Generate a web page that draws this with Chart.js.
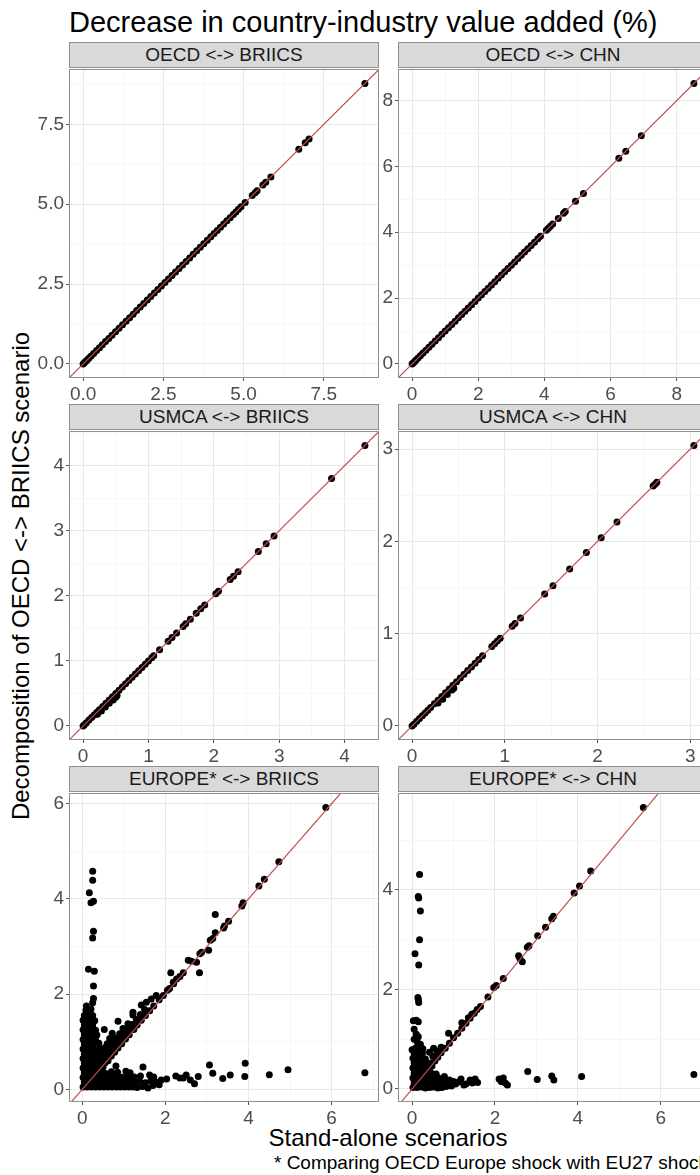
<!DOCTYPE html>
<html>
<head>
<meta charset="utf-8">
<script src="https://cdn.jsdelivr.net/npm/chart.js@4.4.0/dist/chart.umd.min.js"></script>
<style>
  html, body { margin: 0; padding: 0; background: #fff; overflow: hidden; width: 700px; height: 1175px; }
  body { position: relative; font-family: 'Liberation Sans', Arial, sans-serif; }
  canvas { position: absolute; }
  .txt { position: absolute; white-space: nowrap; }
  .strip { position: absolute; width: 308px; height: 24px; background: #d9d9d9; border: 1px solid #8f8f8f;
           color: #1a1a1a; font-size: 19px; line-height: 24px; text-align: center; }
  #title { left: 69px; top: 8px; font-size: 29px; line-height: 1; color: #000; }
  #ytitle { left: -279px; top: 564px; width: 600px; text-align: center; font-size: 24px; line-height: 24px;
            color: #000; transform: rotate(-90deg); transform-origin: 300px 12px; }
  #xtitle { left: 88px; top: 1126px; width: 600px; text-align: center; font-size: 24px; line-height: 24px; color: #000; }
  #caption { left: 108px; top: 1153px; width: 600px; text-align: right; font-size: 19px; line-height: 20px; color: #000; }
</style>
</head>
<body>
<div id="title" class="txt">Decrease in country-industry value added (%)</div>
<div id="ytitle" class="txt">Decomposition of OECD &lt;-&gt; BRIICS scenario</div>
<div id="xtitle" class="txt">Stand-alone scenarios</div>
<div id="caption" class="txt">* Comparing OECD Europe shock with EU27 shock</div>
<script>
/* Stand-alone vs decomposed scenarios — six faceted scatter panels */

const panelTitles = ['OECD <-> BRIICS', 'OECD <-> CHN', 'USMCA <-> BRIICS', 'USMCA <-> CHN',
    'EUROPE* <-> BRIICS', 'EUROPE* <-> CHN'];

// points lying on the diagonal (stand-alone value == decomposed value)
const oecdBriicsVals = [0, 0.03, 0.07, 0.12, 0.18, 0.25, 0.33, 0.42, 0.51, 0.6, 0.7, 0.8, 0.9, 1.01, 1.12,
    1.23, 1.34, 1.45, 1.56, 1.67, 1.78, 1.89, 2.0, 2.11, 2.22, 2.33, 2.44, 2.55, 2.66, 2.77, 2.88, 2.99,
    3.1, 3.21, 3.32, 3.43, 3.54, 3.65, 3.76, 3.87, 3.98, 4.08, 4.18, 4.28, 4.38, 4.48, 4.58, 4.68, 4.76,
    4.84, 4.92, 5.05, 5.27, 5.36, 5.42, 5.6, 5.69, 5.85, 6.72, 6.92, 7.04, 8.78];
const oecdChnVals = [0, 0.03, 0.07, 0.12, 0.18, 0.25, 0.33, 0.42, 0.51, 0.6, 0.7, 0.8, 0.9, 1.0, 1.1,
    1.2, 1.3, 1.4, 1.5, 1.6, 1.7, 1.8, 1.9, 2.0, 2.1, 2.2, 2.3, 2.4, 2.5, 2.6, 2.7, 2.8, 2.9, 3.0, 3.1,
    3.2, 3.3, 3.4, 3.5, 3.6, 3.7, 3.8, 3.88, 4.06, 4.12, 4.18, 4.25, 4.42, 4.58, 4.63, 4.94, 5.18, 6.25,
    6.46, 6.93, 8.52];
const usmcaBriicsVals = [0, 0.02, 0.05, 0.09, 0.13, 0.17, 0.21, 0.25, 0.3, 0.35, 0.4, 0.45, 0.5, 0.55,
    0.6, 0.65, 0.7, 0.75, 0.8, 0.85, 0.9, 0.95, 1.0, 1.05, 1.08, 1.17, 1.3, 1.36, 1.43, 1.53, 1.57, 1.64,
    1.73, 1.8, 1.86, 2.03, 2.07, 2.25, 2.3, 2.37, 2.68, 2.8, 2.92, 3.8, 4.31];
const usmcaChnVals = [0, 0.02, 0.05, 0.08, 0.11, 0.14, 0.17, 0.2, 0.24, 0.28, 0.32, 0.36, 0.4, 0.44,
    0.48, 0.52, 0.56, 0.6, 0.64, 0.68, 0.72, 0.76, 0.86, 0.89, 0.92, 0.95, 1.08, 1.11, 1.17, 1.43, 1.52,
    1.7, 1.88, 2.04, 2.21, 2.6, 2.62, 2.64, 3.04];

// [stand-alone, decomposition] pairs off the diagonal
const usmcaBriicsOff = [[0.22, 0.18], [0.28, 0.23], [0.34, 0.29], [0.4, 0.35], [0.46, 0.4], [0.5, 0.44], [0.52, 0.47]];
const usmcaChnOff = [[0.28, 0.25], [0.33, 0.29], [0.38, 0.34], [0.43, 0.39], [0.45, 0.41]];

const europeBriicsPts = [
    [0.02, 0.05], [0.12, 0.05], [0.22, 0.05], [0.32, 0.05], [0.42, 0.05], [0.52, 0.05], [0.62, 0.05], [0.72, 0.05],
    [0.82, 0.05], [0.92, 0.05], [1.02, 0.05], [1.12, 0.05], [1.22, 0.05], [1.32, 0.04], [1.45, 0.06], [1.58, 0.03], [1.7, 0.08],
    [0.05, 0.15], [0.15, 0.15], [0.25, 0.14], [0.35, 0.16], [0.45, 0.15], [0.55, 0.15], [0.65, 0.14], [0.75, 0.16],
    [0.85, 0.15], [0.95, 0.15], [1.05, 0.14], [1.15, 0.16], [1.25, 0.15], [1.38, 0.17], [1.52, 0.14], [1.65, 0.18], [1.78, 0.15],
    [0.02, 0.25], [0.12, 0.25], [0.22, 0.25], [0.32, 0.26], [0.42, 0.24], [0.52, 0.26], [0.62, 0.25], [0.72, 0.27],
    [0.82, 0.24], [0.92, 0.26], [1.02, 0.25], [1.12, 0.27], [1.25, 0.26], [1.4, 0.28], [1.62, 0.3], [1.72, 0.26],
    [0.05, 0.35], [0.15, 0.35], [0.25, 0.36], [0.35, 0.35], [0.45, 0.36], [0.55, 0.34], [0.7, 0.37], [0.85, 0.36], [1.05, 0.38], [1.15, 0.35],
    [0.02, 0.45], [0.12, 0.46], [0.22, 0.45], [0.32, 0.44], [0.42, 0.46], [0.5, 0.47],
    [0.05, 0.55], [0.15, 0.55], [0.25, 0.56], [0.35, 0.54], [0.45, 0.55], [0.55, 0.56], [0.62, 0.6],
    [0.02, 0.65], [0.12, 0.66], [0.22, 0.65], [0.32, 0.64], [0.42, 0.66], [0.52, 0.65], [0.62, 0.66], [0.7, 0.7],
    [0.05, 0.75], [0.15, 0.75], [0.25, 0.76], [0.35, 0.74], [0.45, 0.75], [0.55, 0.77], [0.65, 0.75], [0.78, 0.78],
    [0.02, 0.85], [0.12, 0.86], [0.22, 0.85], [0.32, 0.84], [0.42, 0.86], [0.55, 0.88], [0.68, 0.86], [0.78, 0.87], [0.86, 0.87],
    [0.05, 0.95], [0.15, 0.96], [0.25, 0.95], [0.4, 0.97], [0.6, 0.96], [0.72, 0.98], [0.84, 0.97], [0.95, 0.96],
    [0.02, 1.05], [0.12, 1.06], [0.22, 1.05], [0.32, 1.04], [0.66, 1.07], [0.8, 1.08], [0.92, 1.06], [1.04, 1.06],
    [0.05, 1.15], [0.15, 1.16], [0.25, 1.15], [0.35, 1.14], [0.72, 1.18], [0.9, 1.17], [1.02, 1.16], [1.13, 1.15],
    [0.02, 1.25], [0.12, 1.26], [0.22, 1.25], [0.32, 1.24], [0.53, 1.26], [0.98, 1.28], [1.12, 1.27], [1.24, 1.26],
    [0.05, 1.35], [0.15, 1.36], [0.25, 1.35], [1.1, 1.38], [1.2, 1.36], [1.32, 1.35],
    [0.02, 1.45], [0.12, 1.46], [0.22, 1.45], [0.3, 1.44], [0.86, 1.43], [1.3, 1.47], [1.42, 1.45],
    [0.05, 1.55], [0.15, 1.56], [0.25, 1.55], [1.22, 1.56], [1.4, 1.57], [1.52, 1.55],
    [0.09, 1.66], [0.17, 1.52], [0.21, 1.69], [1.22, 1.62], [1.42, 1.77], [1.5, 1.68], [1.62, 1.65],
    [1.54, 1.83], [1.66, 1.9], [1.78, 1.97], [1.72, 1.75], [1.85, 1.88], [1.95, 1.97], [2.05, 2.08], [2.1, 2.12],
    [2.19, 2.25], [2.27, 2.32], [2.2, 2.22], [2.43, 2.45], [2.13, 2.45], [2.35, 2.37], [2.55, 2.71], [2.63, 2.69],
    [2.75, 2.67], [2.82, 2.45], [2.83, 2.85], [2.87, 2.88], [3.04, 2.92], [3.08, 3.13], [3.14, 3.17], [3.2, 3.29],
    [3.4, 3.39], [3.42, 3.43], [3.52, 3.53], [3.2, 3.67], [3.84, 3.85], [3.87, 3.92], [4.25, 4.27], [4.38, 4.41],
    [4.73, 4.78], [5.86, 5.92],
    [0.25, 4.58], [0.25, 4.39], [0.17, 4.13], [0.21, 3.92], [0.27, 3.95], [0.27, 3.32], [0.25, 3.18], [0.15, 2.52],
    [0.29, 2.48], [0.27, 2.17], [0.27, 1.91], [0.25, 1.82], [0.1, 1.75],
    [0.81, 0.49], [1.46, 0.47], [1.85, 0.1], [1.9, 0.2], [2.03, 0.22], [2.25, 0.28], [2.35, 0.24], [2.43, 0.24],
    [2.5, 0.3], [2.6, 0.2], [2.7, 0.12], [2.79, 0.27], [3.06, 0.51], [3.14, 0.34], [3.38, 0.23], [3.56, 0.3],
    [3.91, 0.27], [3.92, 0.55], [4.5, 0.31], [4.95, 0.41], [6.8, 0.35]
];

const europeChnPts = [
    [0.02, 0.03], [0.12, 0.03], [0.22, 0.04], [0.32, 0.02], [0.42, 0.03], [0.52, 0.04], [0.62, 0.02], [0.72, 0.03],
    [0.82, 0.05], [0.95, 0.06], [1.05, 0.1], [1.25, 0.08], [1.45, 0.12], [1.52, 0.15], [1.58, 0.13],
    [0.05, 0.12], [0.15, 0.13], [0.25, 0.12], [0.35, 0.11], [0.45, 0.13], [0.55, 0.12], [0.65, 0.14], [0.75, 0.12],
    [0.85, 0.15], [1.12, 0.14], [1.18, 0.2],
    [0.02, 0.22], [0.12, 0.22], [0.22, 0.23], [0.32, 0.21], [0.42, 0.22], [0.52, 0.24], [0.62, 0.23], [0.72, 0.2], [0.78, 0.25],
    [0.05, 0.32], [0.15, 0.33], [0.25, 0.32], [0.35, 0.31], [0.45, 0.33], [0.58, 0.3],
    [0.02, 0.42], [0.12, 0.43], [0.22, 0.42], [0.32, 0.41], [0.42, 0.43], [0.48, 0.46],
    [0.05, 0.52], [0.15, 0.53], [0.25, 0.52], [0.35, 0.5], [0.45, 0.52], [0.55, 0.56],
    [0.02, 0.62], [0.12, 0.63], [0.22, 0.62], [0.32, 0.6], [0.5, 0.66], [0.62, 0.64],
    [0.05, 0.72], [0.15, 0.73], [0.25, 0.72], [0.42, 0.74], [0.6, 0.76], [0.7, 0.73],
    [0.0, 0.79], [0.08, 0.82], [0.18, 0.8], [0.26, 0.81], [0.52, 0.82], [0.7, 0.84], [0.8, 0.82],
    [0.9, 0.92], [0.88, 1.12], [1.0, 1.03], [1.1, 1.12], [1.2, 1.33], [1.2, 1.22], [1.3, 1.32], [1.36, 1.43],
    [1.44, 1.5], [1.4, 1.42], [1.5, 1.52], [1.57, 1.6], [1.65, 1.66], [1.83, 1.85], [1.97, 2.04], [2.03, 2.08],
    [2.2, 2.22], [2.57, 2.68], [2.6, 2.63], [2.66, 2.56], [2.78, 2.85], [2.82, 2.88], [3.03, 3.08], [3.22, 3.25],
    [3.37, 3.42], [3.41, 3.47], [3.91, 3.94], [4.04, 4.08], [4.31, 4.38], [5.58, 5.66],
    [0.18, 4.31], [0.15, 3.87], [0.16, 3.84], [0.2, 3.58], [0.18, 3.0], [0.07, 2.72], [0.16, 2.49], [0.14, 1.84],
    [0.16, 1.74], [0.15, 1.8], [0.03, 1.37], [0.15, 1.35], [0.1, 1.38], [0.1, 1.1], [0.05, 1.2], [0.12, 0.95],
    [0.2, 0.9], [0.05, 1.0], [0.15, 1.05],
    [0.9, 0.18], [1.0, 0.15], [1.3, 0.1], [1.4, 0.18], [1.52, 0.2], [2.1, 0.2], [2.15, 0.15], [2.2, 0.22],
    [2.25, 0.12], [2.3, 0.08], [2.79, 0.35], [3.02, 0.19], [3.37, 0.26], [3.42, 0.18], [4.09, 0.25], [6.8, 0.29]
];

// major tick values per axis
const ticksOecdBriics = [0, 2.5, 5, 7.5];
const ticksOecdChn = [0, 2, 4, 6, 8];
const ticksUsmcaBriics = [0, 1, 2, 3, 4];
const ticksUsmcaChn = [0, 1, 2, 3];
const ticksEuropeX = [0, 2, 4, 6];
const ticksEuropeBriicsY = [0, 2, 4, 6];
const ticksEuropeChnY = [0, 2, 4];

const FONT = "'Liberation Sans', Arial, sans-serif";
const PLOT_W = 310, PLOT_H = 310;
const ROW_TOP = [68, 430, 792];
const COL_LEFT = [69, 398];
const Y_AXIS_W = [45, 17];
const PAD_TOP = 12, PAD_RIGHT = 14, X_AXIS_H = 30;

function diag(vals, off) {
    const pts = vals.map(function (v) { return { x: v, y: v }; });
    (off || []).forEach(function (p) { pts.push({ x: p[0], y: p[1] }); });
    return pts;
}
function pairs(list) {
    return list.map(function (p) { return { x: p[0], y: p[1] }; });
}

function limits(vals) {
    const lo = Math.min.apply(null, vals), hi = Math.max.apply(null, vals);
    const d = (hi - lo) * 0.05;
    return [lo - d, hi + d];
}

function tickList(major, lo, hi) {
    const step = major[1] - major[0];
    const out = major.map(function (v) { return { value: v, major: true }; });
    for (let i = -1; i < major.length; i++) {
        const m = major[0] + (i + 0.5) * step;
        if (m >= lo && m <= hi) out.push({ value: m, major: false });
    }
    return out.sort(function (a, b) { return a.value - b.value; });
}

function isMajor(major, v) {
    return major.some(function (m) { return Math.abs(m - v) < 1e-9; });
}

function axisOptions(major, lim, dec, isY, yw) {
    return {
        type: 'linear',
        min: lim[0],
        max: lim[1],
        afterBuildTicks: function (axis) { axis.ticks = tickList(major, lim[0], lim[1]); },
        afterFit: function (axis) {
            if (isY) axis.width = yw; else axis.height = X_AXIS_H;
        },
        border: { display: false },
        grid: {
            color: function (ctx) { return ctx.tick && isMajor(major, ctx.tick.value) ? '#e8e8e8' : '#f3f3f3'; },
            lineWidth: function (ctx) { return ctx.tick && isMajor(major, ctx.tick.value) ? 1 : 0.7; },
            tickColor: function (ctx) { return ctx.tick && isMajor(major, ctx.tick.value) ? '#555555' : 'rgba(0,0,0,0)'; },
            tickLength: 3,
        },
        ticks: {
            autoSkip: false,
            maxRotation: 0,
            minRotation: 0,
            padding: 2,
            color: '#4d4d4d',
            font: { family: FONT, size: 19 },
            callback: function (value) { return isMajor(major, value) ? Number(value).toFixed(dec) : ''; },
        },
    };
}

const panelBox = {
    id: 'panelBox',
    afterDraw: function (chart) {
        const a = chart.chartArea, ctx = chart.ctx;
        ctx.save();
        ctx.strokeStyle = '#8f8f8f';
        ctx.lineWidth = 1;
        ctx.strokeRect(Math.round(a.left) + 0.5, Math.round(a.top) + 0.5,
            Math.round(a.width) - 1, Math.round(a.height) - 1);
        ctx.restore();
    },
};

const panels = [
    { title: panelTitles[0], pts: diag(oecdBriicsVals), xt: ticksOecdBriics, yt: ticksOecdBriics, dec: 1 },
    { title: panelTitles[1], pts: diag(oecdChnVals), xt: ticksOecdChn, yt: ticksOecdChn, dec: 0 },
    { title: panelTitles[2], pts: diag(usmcaBriicsVals, usmcaBriicsOff), xt: ticksUsmcaBriics, yt: ticksUsmcaBriics, dec: 0 },
    { title: panelTitles[3], pts: diag(usmcaChnVals, usmcaChnOff), xt: ticksUsmcaChn, yt: ticksUsmcaChn, dec: 0 },
    { title: panelTitles[4], pts: pairs(europeBriicsPts), xt: ticksEuropeX, yt: ticksEuropeBriicsY, dec: 0 },
    { title: panelTitles[5], pts: pairs(europeChnPts), xt: ticksEuropeX, yt: ticksEuropeChnY, dec: 0 },
];

panels.forEach(function (p, i) {
    const row = Math.floor(i / 2), col = i % 2;
    const yw = Y_AXIS_W[col];
    const plotLeft = COL_LEFT[col], plotTop = ROW_TOP[row];

    const strip = document.createElement('div');
    strip.className = 'strip';
    strip.textContent = p.title;
    strip.style.left = plotLeft + 'px';
    strip.style.top = (plotTop - 26) + 'px';
    document.body.appendChild(strip);

    const canvas = document.createElement('canvas');
    const w = yw + PLOT_W + PAD_RIGHT, h = PAD_TOP + PLOT_H + X_AXIS_H;
    canvas.width = w;
    canvas.height = h;
    canvas.style.width = w + 'px';
    canvas.style.height = h + 'px';
    canvas.style.left = (plotLeft - yw) + 'px';
    canvas.style.top = (plotTop - PAD_TOP) + 'px';
    document.body.appendChild(canvas);

    const xLim = limits(p.pts.map(function (d) { return d.x; }));
    const yLim = limits(p.pts.map(function (d) { return d.y; }));

    new Chart(canvas, {
        type: 'scatter',
        data: {
            datasets: [
                {
                    type: 'line',
                    data: [{ x: -50, y: -50 }, { x: 50, y: 50 }],
                    borderColor: '#bf4e4a',
                    borderWidth: 1.2,
                    pointRadius: 0,
                    fill: false,
                },
                {
                    data: p.pts,
                    pointRadius: 3.5,
                    pointHoverRadius: 3.5,
                    backgroundColor: '#000000',
                    borderWidth: 0,
                },
            ],
        },
        options: {
            responsive: false,
            animation: false,
            events: [],
            layout: { padding: { top: PAD_TOP, right: PAD_RIGHT, left: 0, bottom: 0 } },
            plugins: { legend: { display: false }, tooltip: { enabled: false } },
            scales: {
                x: axisOptions(p.xt, xLim, p.dec, false, yw),
                y: axisOptions(p.yt, yLim, p.dec, true, yw),
            },
        },
        plugins: [panelBox],
    });
});
</script>
</body>
</html>
